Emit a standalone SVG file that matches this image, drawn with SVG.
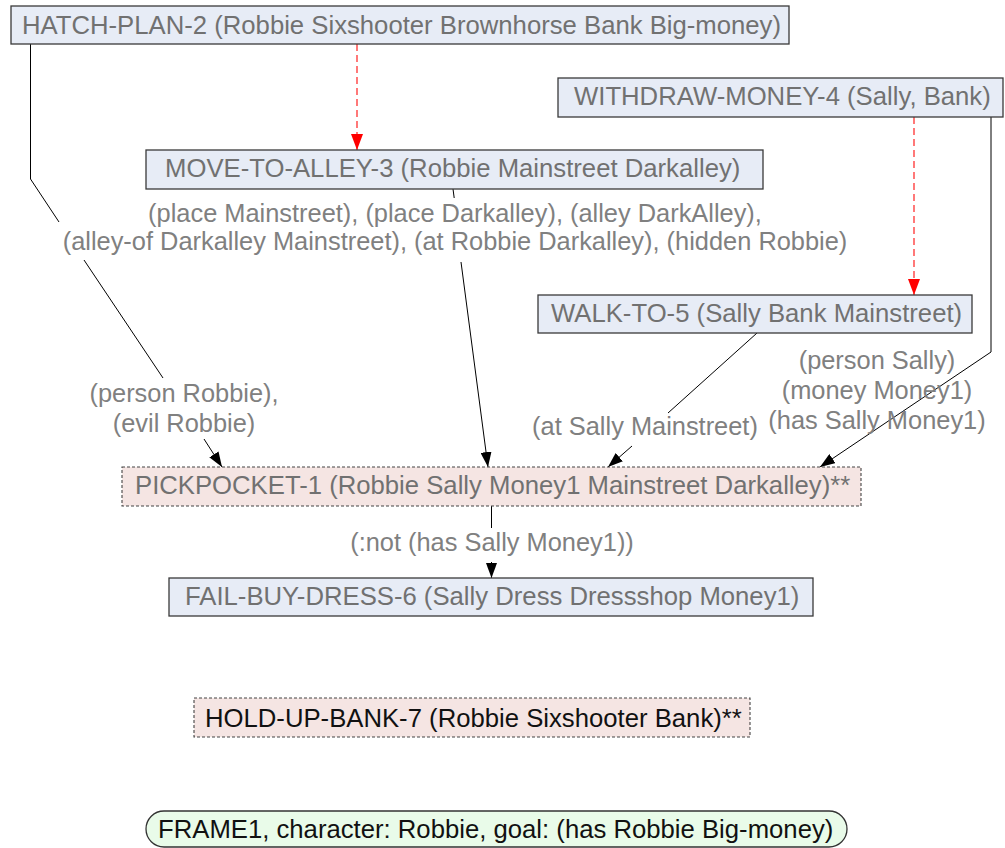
<svg xmlns="http://www.w3.org/2000/svg" width="1005" height="848" viewBox="0 0 1005 848">
  <style>
    .node { fill: #e7ecf6; stroke: #3a3a3a; stroke-width: 1.3; }
    .abstract { fill: #f5e5e3; stroke: #444; stroke-width: 1.1; stroke-dasharray: 3 2; }
    .frame { fill: #e9fbe9; stroke: #333; stroke-width: 1.3; }
    .ntext { font-family: "Liberation Sans", Arial, sans-serif; font-size: 25.7px; fill: #717171; }
    .dark { fill: #111; }
    .elabel { font-family: "Liberation Sans", Arial, sans-serif; font-size: 25.4px; fill: #808080; text-anchor: middle; }
    .edge { fill: none; stroke: #000; stroke-width: 1; }
    .sub { fill: none; stroke: #ff2020; stroke-width: 1.2; stroke-dasharray: 7 4; }
  </style>
  <defs>
    <marker id="arrow" viewBox="0 0 15 11" refX="15" refY="5.5" markerWidth="15" markerHeight="11" orient="auto" markerUnits="userSpaceOnUse">
      <path d="M0,0 L15,5.5 L0,11 z" fill="#000"/>
    </marker>
    <marker id="arrow-red" viewBox="0 0 16 12" refX="16" refY="6" markerWidth="16" markerHeight="12" orient="auto" markerUnits="userSpaceOnUse">
      <path d="M0,0 L16,6 L0,12 z" fill="#ff0000"/>
    </marker>
  </defs>

  <!-- connectors -->
  <g id="connectors">
    <!-- sub-plan links -->
    <path class="sub" d="M357,44 L357,150" marker-end="url(#arrow-red)"/>
    <path class="sub" d="M914,117 L914,295" marker-end="url(#arrow-red)"/>

    <!-- causal links into PICKPOCKET-1 -->
    <path class="edge" d="M30.5,44 L30.5,179 L59,222 M84,260 L163,378"/>
    <path class="edge" d="M204,439 L222,467" marker-end="url(#arrow)"/>
    <path class="edge" d="M453,189 L454.2,198"/>
    <path class="edge" d="M461,262 L488,467" marker-end="url(#arrow)"/>
    <path class="edge" d="M757,333 L668,413"/>
    <path class="edge" d="M632,446 L608,467" marker-end="url(#arrow)"/>
    <path class="edge" d="M991,117 L991,352 L820,467" marker-end="url(#arrow)"/>

    <!-- PICKPOCKET-1 to FAIL-BUY-DRESS-6 -->
    <path class="edge" d="M491.5,506 L491.5,528"/>
    <path class="edge" d="M491.5,562 L491.5,578" marker-end="url(#arrow)"/>

    <!-- link labels -->
    <text class="elabel" x="455" y="222">(place Mainstreet), (place Darkalley), (alley DarkAlley),</text>
    <text class="elabel" x="455" y="250">(alley-of Darkalley Mainstreet), (at Robbie Darkalley), (hidden Robbie)</text>
    <text class="elabel" x="184" y="402">(person Robbie),</text>
    <text class="elabel" x="184" y="432">(evil Robbie)</text>
    <text class="elabel" x="645" y="435">(at Sally Mainstreet)</text>
    <text class="elabel" x="877" y="369">(person Sally)</text>
    <text class="elabel" x="877" y="399">(money Money1)</text>
    <text class="elabel" x="877" y="429">(has Sally Money1)</text>
    <text class="elabel" x="492" y="551">(:not (has Sally Money1))</text>
  </g>

  <g id="hatch-plan-2">
    <rect class="node" x="11" y="6" width="778" height="38"/>
    <text class="ntext" x="22" y="34">HATCH-PLAN-2 (Robbie Sixshooter Brownhorse Bank Big-money)</text>
  </g>

  <g id="withdraw-money-4">
    <rect class="node" x="558" y="78" width="445" height="39"/>
    <text class="ntext" x="574" y="105">WITHDRAW-MONEY-4 (Sally, Bank)</text>
  </g>

  <g id="move-to-alley-3">
    <rect class="node" x="146" y="150" width="617" height="39"/>
    <text class="ntext" x="165" y="177">MOVE-TO-ALLEY-3 (Robbie Mainstreet Darkalley)</text>
  </g>

  <g id="walk-to-5">
    <rect class="node" x="538" y="295" width="434" height="38"/>
    <text class="ntext" x="551" y="322">WALK-TO-5 (Sally Bank Mainstreet)</text>
  </g>

  <g id="pickpocket-1">
    <rect class="abstract" x="122" y="467" width="739" height="39"/>
    <text class="ntext" x="135" y="494">PICKPOCKET-1 (Robbie Sally Money1 Mainstreet Darkalley)**</text>
  </g>

  <g id="fail-buy-dress-6">
    <rect class="node" x="169" y="578" width="644" height="38"/>
    <text class="ntext" x="185" y="605">FAIL-BUY-DRESS-6 (Sally Dress Dressshop Money1)</text>
  </g>

  <g id="hold-up-bank-7">
    <rect class="abstract" x="194" y="698" width="556" height="39"/>
    <text class="ntext dark" x="205" y="727">HOLD-UP-BANK-7 (Robbie Sixshooter Bank)**</text>
  </g>

  <g id="frame1">
    <rect class="frame" x="146" y="811" width="701" height="36" rx="18" ry="18"/>
    <text class="ntext dark" x="158" y="838">FRAME1, character: Robbie, goal: (has Robbie Big-money)</text>
  </g>
</svg>
